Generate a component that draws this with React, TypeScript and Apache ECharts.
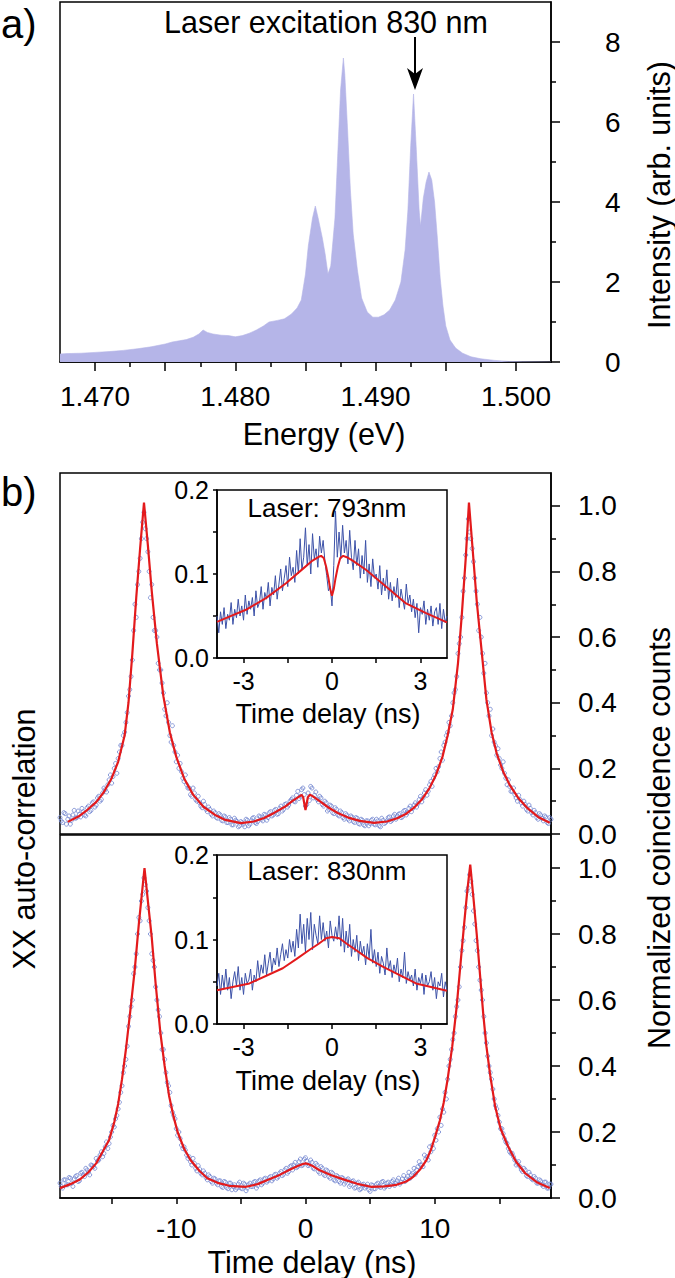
import React, { useEffect, useRef } from 'react';
import * as echarts from 'echarts';

const FONT = '"Liberation Sans", Arial, Helvetica, sans-serif';

// ---------- Panel a: PL spectrum ----------
const energyLabels = [1.47, 1.48, 1.49, 1.5];
const energyMajorTicks = [1.47, 1.475, 1.48, 1.485, 1.49, 1.495, 1.5];
const energyMinorTicks = [1.4725, 1.4775, 1.4825, 1.4875, 1.4925, 1.4975];
const intensityTicks = [0, 2, 4, 6, 8];
const intensityMinorTicks = [1, 3, 5, 7];
const spectrum: number[][] = [
  [1.4675, 0.2], [1.468, 0.21], [1.469, 0.22], [1.47, 0.24], [1.471, 0.26], [1.472, 0.29], [1.473, 0.33],
  [1.474, 0.38], [1.475, 0.45], [1.4755, 0.5], [1.476, 0.53], [1.4765, 0.56], [1.477, 0.62], [1.4774, 0.7],
  [1.4777, 0.8], [1.478, 0.74], [1.4784, 0.7], [1.479, 0.67], [1.4795, 0.66], [1.48, 0.63], [1.4805, 0.66],
  [1.481, 0.72], [1.4815, 0.8], [1.482, 0.9], [1.4824, 1.0], [1.483, 1.04], [1.4835, 1.08], [1.484, 1.2],
  [1.4844, 1.35], [1.4847, 1.55], [1.485, 2.2], [1.4852, 2.9], [1.4855, 3.6], [1.4857, 3.9], [1.4859, 3.6],
  [1.4862, 3.1], [1.4864, 2.7], [1.4866, 2.2], [1.4868, 2.4], [1.4871, 3.6], [1.4873, 5.2], [1.4875, 6.8],
  [1.4877, 7.6], [1.4878, 7.2], [1.488, 5.8], [1.4882, 4.3], [1.4884, 3.2], [1.4887, 2.3], [1.489, 1.6],
  [1.4894, 1.25], [1.4898, 1.12], [1.4902, 1.12], [1.4906, 1.18], [1.491, 1.3], [1.4914, 1.55], [1.4918, 2.0],
  [1.4921, 2.8], [1.4923, 3.8], [1.4925, 5.4], [1.4927, 6.7], [1.4929, 5.3], [1.4931, 3.8], [1.4932, 3.4],
  [1.4934, 4.1], [1.4936, 4.5], [1.4938, 4.75], [1.494, 4.55], [1.4942, 4.0], [1.4944, 3.1], [1.4946, 2.1],
  [1.4948, 1.4], [1.495, 0.9], [1.4953, 0.55], [1.4957, 0.35], [1.4962, 0.22], [1.4968, 0.13], [1.4975, 0.08],
  [1.4985, 0.04], [1.4995, 0.015], [1.5005, 0.005], [1.5025, 0],
];

// ---------- Panel b: auto-correlation ----------
const delayLabels = [-10, 0, 10];
const delayTicks = [-15, -10, -5, 0, 5, 10, 15];
const countLabels = [0, 0.2, 0.4, 0.6, 0.8, 1.0];
const countMinorTicks = [0.1, 0.3, 0.5, 0.7, 0.9];
const scatterStartA = -19;
const scatterStartB = -18.9;
const scatterStep = 0.2;
const scatter793a: number[] = [
  0.05, 0.035, 0.062, 0.045, 0.03, 0.058, 0.048, 0.07, 0.052, 0.068,
  0.055, 0.085, 0.072, 0.098, 0.088, 0.115, 0.105, 0.14, 0.128, 0.165,
  0.155, 0.2, 0.185, 0.25, 0.27, 0.31, 0.37, 0.44, 0.53, 0.7,
  0.76, 0.84, 0.95, 0.93, 0.86, 0.72, 0.66, 0.62, 0.52, 0.5,
  0.43, 0.36, 0.34, 0.28, 0.27, 0.22, 0.2, 0.19, 0.16, 0.15,
  0.14, 0.115, 0.125, 0.1, 0.095, 0.08, 0.09, 0.068, 0.075, 0.055,
  0.065, 0.048, 0.058, 0.04, 0.052, 0.035, 0.045, 0.028, 0.042, 0.022,
  0.038, 0.03, 0.045, 0.025, 0.04, 0.05, 0.032, 0.055, 0.045, 0.06,
  0.042, 0.065, 0.055, 0.072, 0.06, 0.078, 0.07, 0.09, 0.082, 0.1,
  0.11, 0.098, 0.13, 0.115, 0.14, 0.085, 0.125, 0.145, 0.11, 0.128,
  0.098, 0.11, 0.085, 0.095, 0.075, 0.085, 0.062, 0.075, 0.055, 0.065,
  0.045, 0.058, 0.04, 0.052, 0.035, 0.048, 0.03, 0.042, 0.025, 0.04,
  0.032, 0.045, 0.028, 0.04, 0.022, 0.042, 0.035, 0.05, 0.038, 0.055,
  0.045, 0.06, 0.05, 0.07, 0.058, 0.078, 0.068, 0.088, 0.082, 0.105,
  0.098, 0.125, 0.118, 0.15, 0.145, 0.18, 0.19, 0.23, 0.225, 0.28,
  0.31, 0.33, 0.4, 0.44, 0.55, 0.6, 0.74, 0.85, 0.96, 0.9,
  0.83, 0.74, 0.62, 0.6, 0.49, 0.43, 0.36, 0.3, 0.28, 0.24,
  0.23, 0.2, 0.185, 0.15, 0.145, 0.13, 0.12, 0.1, 0.105, 0.085,
  0.09, 0.07, 0.078, 0.058, 0.065, 0.045, 0.058, 0.04, 0.052, 0.032,
  0.045,
];
const scatter793b: number[] = [
  0.04, 0.065, 0.03, 0.055, 0.042, 0.072, 0.05, 0.06, 0.078, 0.058,
  0.08, 0.068, 0.095, 0.082, 0.11, 0.1, 0.125, 0.135, 0.15, 0.18,
  0.175, 0.215, 0.23, 0.27, 0.3, 0.34, 0.42, 0.48, 0.62, 0.66,
  0.8, 0.9, 0.98, 0.9, 0.8, 0.76, 0.62, 0.6, 0.5, 0.46,
  0.38, 0.4, 0.3, 0.33, 0.25, 0.24, 0.215, 0.17, 0.18, 0.14,
  0.12, 0.14, 0.105, 0.115, 0.085, 0.1, 0.075, 0.082, 0.06, 0.07,
  0.05, 0.062, 0.042, 0.055, 0.035, 0.05, 0.028, 0.048, 0.038, 0.025,
  0.035, 0.022, 0.042, 0.03, 0.048, 0.035, 0.038, 0.052, 0.04, 0.058,
  0.05, 0.068, 0.058, 0.075, 0.062, 0.085, 0.075, 0.092, 0.088, 0.105,
  0.1, 0.118, 0.108, 0.135, 0.12, 0.09, 0.102, 0.14, 0.118, 0.105,
  0.115, 0.09, 0.1, 0.07, 0.088, 0.065, 0.08, 0.058, 0.07, 0.05,
  0.062, 0.045, 0.055, 0.038, 0.05, 0.032, 0.045, 0.028, 0.04, 0.025,
  0.042, 0.03, 0.045, 0.025, 0.048, 0.032, 0.04, 0.052, 0.042, 0.06,
  0.055, 0.062, 0.052, 0.072, 0.065, 0.085, 0.078, 0.095, 0.092, 0.115,
  0.11, 0.135, 0.13, 0.16, 0.17, 0.2, 0.205, 0.25, 0.27, 0.3,
  0.34, 0.36, 0.43, 0.48, 0.58, 0.66, 0.78, 0.9, 0.92, 0.87,
  0.78, 0.7, 0.66, 0.55, 0.52, 0.4, 0.38, 0.32, 0.27, 0.26,
  0.21, 0.22, 0.17, 0.165, 0.13, 0.14, 0.11, 0.118, 0.095, 0.1,
  0.075, 0.088, 0.065, 0.072, 0.05, 0.062, 0.048, 0.055, 0.035, 0.05,
];
const scatter830a: number[] = [
  0.045, 0.03, 0.055, 0.04, 0.06, 0.035, 0.065, 0.05, 0.075, 0.07,
  0.09, 0.078, 0.1, 0.095, 0.12, 0.115, 0.14, 0.135, 0.17, 0.165,
  0.2, 0.215, 0.25, 0.29, 0.34, 0.4, 0.46, 0.55, 0.6, 0.7,
  0.8, 0.84, 0.92, 0.95, 0.88, 0.8, 0.72, 0.64, 0.57, 0.5,
  0.45, 0.38, 0.34, 0.28, 0.25, 0.21, 0.2, 0.16, 0.155, 0.13,
  0.125, 0.1, 0.105, 0.082, 0.088, 0.07, 0.075, 0.055, 0.065, 0.045,
  0.058, 0.04, 0.052, 0.032, 0.048, 0.028, 0.045, 0.035, 0.025, 0.042,
  0.03, 0.045, 0.022, 0.04, 0.035, 0.048, 0.03, 0.052, 0.04, 0.058,
  0.048, 0.062, 0.052, 0.07, 0.06, 0.075, 0.068, 0.085, 0.075, 0.095,
  0.085, 0.108, 0.095, 0.118, 0.1, 0.122, 0.098, 0.115, 0.09, 0.105,
  0.08, 0.095, 0.072, 0.085, 0.065, 0.078, 0.055, 0.068, 0.05, 0.062,
  0.042, 0.055, 0.035, 0.05, 0.03, 0.045, 0.025, 0.04, 0.03, 0.042,
  0.02, 0.038, 0.028, 0.045, 0.032, 0.05, 0.035, 0.048, 0.04, 0.055,
  0.045, 0.06, 0.048, 0.068, 0.058, 0.078, 0.07, 0.09, 0.085, 0.11,
  0.1, 0.13, 0.125, 0.155, 0.16, 0.19, 0.21, 0.245, 0.27, 0.32,
  0.36, 0.42, 0.48, 0.55, 0.6, 0.7, 0.78, 0.88, 0.94, 0.96,
  0.87, 0.78, 0.7, 0.63, 0.55, 0.47, 0.4, 0.36, 0.3, 0.27,
  0.23, 0.21, 0.18, 0.165, 0.14, 0.135, 0.115, 0.105, 0.095, 0.08,
  0.085, 0.065, 0.07, 0.055, 0.06, 0.045, 0.052, 0.035, 0.048, 0.03,
  0.042,
];
const scatter830b: number[] = [
  0.035, 0.055, 0.04, 0.062, 0.045, 0.058, 0.068, 0.052, 0.078, 0.065,
  0.085, 0.07, 0.098, 0.09, 0.112, 0.13, 0.125, 0.155, 0.15, 0.185,
  0.22, 0.24, 0.27, 0.32, 0.38, 0.42, 0.52, 0.58, 0.68, 0.74,
  0.85, 0.9, 0.97, 0.93, 0.84, 0.74, 0.7, 0.6, 0.55, 0.45,
  0.42, 0.35, 0.32, 0.26, 0.24, 0.19, 0.18, 0.15, 0.145, 0.12,
  0.11, 0.12, 0.09, 0.098, 0.075, 0.082, 0.062, 0.07, 0.05, 0.06,
  0.045, 0.052, 0.035, 0.05, 0.032, 0.045, 0.025, 0.04, 0.03, 0.048,
  0.028, 0.042, 0.03, 0.045, 0.035, 0.05, 0.038, 0.055, 0.045, 0.06,
  0.052, 0.065, 0.058, 0.072, 0.065, 0.08, 0.072, 0.09, 0.08, 0.098,
  0.1, 0.092, 0.11, 0.098, 0.118, 0.112, 0.1, 0.108, 0.088, 0.1,
  0.075, 0.09, 0.068, 0.082, 0.06, 0.075, 0.052, 0.065, 0.045, 0.06,
  0.048, 0.058, 0.04, 0.052, 0.032, 0.048, 0.028, 0.042, 0.035, 0.025,
  0.04, 0.028, 0.042, 0.035, 0.048, 0.03, 0.045, 0.035, 0.05, 0.038,
  0.052, 0.042, 0.058, 0.05, 0.065, 0.06, 0.075, 0.072, 0.095, 0.1,
  0.095, 0.118, 0.115, 0.14, 0.15, 0.175, 0.2, 0.22, 0.26, 0.3,
  0.4, 0.45, 0.5, 0.58, 0.64, 0.75, 0.82, 0.93, 0.98, 0.92,
  0.83, 0.75, 0.66, 0.6, 0.5, 0.43, 0.38, 0.33, 0.28, 0.25,
  0.21, 0.195, 0.17, 0.15, 0.135, 0.125, 0.1, 0.11, 0.085, 0.09,
  0.068, 0.078, 0.058, 0.065, 0.045, 0.055, 0.04, 0.048, 0.03, 0.042,
];
const fit793: number[][] = [
  [-18.4, 0.037], [-17.5, 0.055], [-16.9, 0.073], [-16.2, 0.097], [-15.6, 0.128], [-15.0, 0.17], [-14.5, 0.22],
  [-14.0, 0.3], [-13.7, 0.4], [-13.4, 0.55], [-13.1, 0.72], [-12.8, 0.87], [-12.5, 1.01], [-12.2, 0.88],
  [-11.9, 0.74], [-11.5, 0.58], [-11.0, 0.42], [-10.5, 0.31], [-10.0, 0.235], [-9.4, 0.17], [-8.7, 0.12],
  [-7.9, 0.083], [-7.0, 0.058], [-6.2, 0.043], [-5.0, 0.033], [-4.0, 0.038], [-3.2, 0.049], [-2.4, 0.065],
  [-1.6, 0.083], [-1.0, 0.101], [-0.5, 0.114], [-0.3, 0.119], [-0.18, 0.112], [-0.08, 0.09], [0, 0.073],
  [0.08, 0.09], [0.18, 0.112], [0.35, 0.12], [0.6, 0.114], [1.1, 0.1], [1.8, 0.08], [2.5, 0.064], [3.3, 0.05],
  [4.2, 0.04], [5.3, 0.034], [6.3, 0.038], [7.1, 0.048], [7.8, 0.062], [8.4, 0.08], [9.0, 0.105], [9.6, 0.14],
  [10.1, 0.18], [10.6, 0.235], [11.0, 0.3], [11.4, 0.38], [11.8, 0.52], [12.1, 0.67], [12.4, 0.84], [12.65, 1.01],
  [12.95, 0.86], [13.25, 0.71], [13.6, 0.57], [14.0, 0.41], [14.4, 0.31], [14.8, 0.245], [15.3, 0.19],
  [15.8, 0.15], [16.5, 0.108], [17.2, 0.078], [18.0, 0.052], [18.9, 0.034],
];
const fit830: number[][] = [
  [-19, 0.03], [-18.2, 0.042], [-17.5, 0.055], [-16.8, 0.078], [-16.2, 0.105], [-15.7, 0.14], [-15.2, 0.176],
  [-14.8, 0.23], [-14.5, 0.285], [-14.2, 0.36], [-13.9, 0.45], [-13.55, 0.57], [-13.22, 0.69], [-12.9, 0.83],
  [-12.46, 1.0], [-12.16, 0.885], [-11.9, 0.79], [-11.6, 0.65], [-11.23, 0.5], [-10.9, 0.4], [-10.56, 0.31],
  [-10.2, 0.245], [-9.9, 0.2], [-9.4, 0.15], [-8.9, 0.115], [-8.2, 0.082], [-7.6, 0.06], [-6.8, 0.046],
  [-5.9, 0.037], [-4.6, 0.034], [-3.7, 0.042], [-2.9, 0.055], [-2.0, 0.07], [-1.27, 0.085], [-0.6, 0.097],
  [-0.2, 0.103], [0, 0.105], [0.2, 0.103], [0.6, 0.096], [1.06, 0.085], [2.0, 0.069], [3.05, 0.055],
  [4.0, 0.043], [5.05, 0.034], [6.1, 0.035], [7.04, 0.04], [7.8, 0.05], [8.36, 0.065], [8.9, 0.088],
  [9.36, 0.115], [9.7, 0.145], [10.03, 0.186], [10.4, 0.235], [10.69, 0.288], [11.0, 0.36], [11.36, 0.46],
  [11.7, 0.58], [12.02, 0.72], [12.3, 0.84], [12.52, 0.93], [12.75, 1.01], [13.02, 0.9], [13.25, 0.8],
  [13.52, 0.67], [13.75, 0.56], [14.0, 0.46], [14.3, 0.37], [14.68, 0.277], [15.1, 0.21], [15.68, 0.156],
  [16.3, 0.11], [17.0, 0.075], [17.9, 0.048], [18.9, 0.03],
];

// ---------- Insets ----------
const insetLabels = [-3, 0, 3];
const insetTicks = [-3, -1.5, 0, 1.5, 3];
const insetYLabels = [0, 0.1, 0.2];
const insetYTicks = [0, 0.05, 0.1, 0.15, 0.2];
const insetStart = -3.9;
const insetStep = 0.06;
const inset793: number[] = [
  0.05, 0.03, 0.055, 0.04, 0.06, 0.035, 0.052, 0.045, 0.066, 0.04,
  0.058, 0.048, 0.07, 0.05, 0.062, 0.045, 0.075, 0.052, 0.068, 0.058,
  0.072, 0.05, 0.08, 0.06, 0.066, 0.085, 0.058, 0.078, 0.07, 0.09,
  0.062, 0.084, 0.075, 0.098, 0.07, 0.088, 0.106, 0.08, 0.095, 0.11,
  0.085, 0.12, 0.098, 0.108, 0.09, 0.128, 0.1, 0.142, 0.105, 0.12,
  0.155, 0.11, 0.135, 0.1, 0.148, 0.118, 0.13, 0.108, 0.145, 0.125,
  0.14, 0.115, 0.098, 0.08, 0.085, 0.062, 0.11, 0.175, 0.12, 0.15,
  0.118, 0.158, 0.125, 0.14, 0.112, 0.152, 0.12, 0.105, 0.14, 0.11,
  0.13, 0.095, 0.122, 0.1, 0.14, 0.09, 0.112, 0.085, 0.118, 0.095,
  0.1, 0.082, 0.11, 0.075, 0.095, 0.08, 0.105, 0.07, 0.09, 0.068,
  0.085, 0.072, 0.095, 0.06, 0.082, 0.07, 0.058, 0.088, 0.065, 0.075,
  0.055, 0.07, 0.048, 0.065, 0.03, 0.06, 0.052, 0.068, 0.04, 0.058,
  0.045, 0.062, 0.038, 0.055, 0.06, 0.04, 0.065, 0.035, 0.058, 0.042,
  0.05,
];
const inset830: number[] = [
  0.045, 0.06, 0.035, 0.058, 0.042, 0.065, 0.04, 0.055, 0.03, 0.05,
  0.062, 0.045, 0.068, 0.04, 0.055, 0.035, 0.06, 0.048, 0.052, 0.065,
  0.04, 0.058, 0.05, 0.075, 0.055, 0.07, 0.06, 0.082, 0.058, 0.072,
  0.085, 0.062, 0.078, 0.07, 0.09, 0.068, 0.082, 0.095, 0.075, 0.088,
  0.078, 0.1, 0.085, 0.098, 0.08, 0.112, 0.09, 0.13, 0.095, 0.118,
  0.085, 0.125, 0.1, 0.132, 0.088, 0.118, 0.105, 0.095, 0.128, 0.1,
  0.12, 0.098, 0.11, 0.09, 0.122, 0.105, 0.098, 0.115, 0.1, 0.128,
  0.092, 0.125, 0.085, 0.11, 0.09, 0.118, 0.08, 0.1, 0.085, 0.105,
  0.075, 0.098, 0.082, 0.092, 0.07, 0.095, 0.078, 0.112, 0.072, 0.088,
  0.068, 0.085, 0.06, 0.08, 0.072, 0.058, 0.09, 0.065, 0.075, 0.055,
  0.07, 0.06, 0.078, 0.05, 0.065, 0.055, 0.085, 0.048, 0.062, 0.052,
  0.058, 0.045, 0.065, 0.04, 0.055, 0.048, 0.06, 0.035, 0.058, 0.045,
  0.05, 0.062, 0.04, 0.055, 0.03, 0.05, 0.045, 0.06, 0.032, 0.05,
  0.04,
];
const insetFit793: number[][] = [
  [-3.9, 0.043], [-3.5, 0.049], [-2.92, 0.0574], [-2.24, 0.0713], [-1.56, 0.089], [-1.0, 0.1058], [-0.66, 0.116],
  [-0.45, 0.1205], [-0.37, 0.1216], [-0.28, 0.119], [-0.2, 0.109], [-0.12, 0.095], [-0.06, 0.082], [0, 0.074],
  [0.06, 0.082], [0.12, 0.095], [0.2, 0.109], [0.28, 0.119], [0.38, 0.1216], [0.5, 0.12], [0.7, 0.116],
  [1.15, 0.105], [1.83, 0.085], [2.51, 0.065], [3.19, 0.0535], [3.9, 0.0424],
];
const insetFit830: number[][] = [
  [-3.9, 0.04], [-2.8, 0.048], [-1.67, 0.066], [-1.2, 0.077], [-0.77, 0.0876], [-0.45, 0.095], [-0.2, 0.1014],
  [0, 0.103], [0.25, 0.1014], [0.5, 0.095], [0.81, 0.0876], [1.2, 0.078], [1.72, 0.068], [2.85, 0.048],
  [3.9, 0.0394],
];

const toPairs = (start: number, step: number, ys: number[]) =>
  ys.map((y, i) => [Number((start + step * i).toFixed(3)), y]);

const BLACK = '#000';
const RED = '#e31a1c';
const tickStyle = { color: BLACK, width: 1.5 };
const lbl = (size: number, margin: number, values: number[], fmt: (v: number) => string, align: string) => ({
  show: true, customValues: values, formatter: fmt, margin, fontSize: size, color: BLACK, fontFamily: FONT, align,
});

function majorAxis(grid: number, min: number, max: number, pos: string, ticks: number[], tickLen: number, label: any) {
  return {
    type: 'value', gridIndex: grid, min, max, position: pos,
    axisLine: { show: true, onZero: false, lineStyle: tickStyle },
    axisTick: { show: true, inside: false, length: tickLen, customValues: ticks, lineStyle: tickStyle },
    axisLabel: label,
    splitLine: { show: false },
  };
}
function ghostAxis(grid: number, min: number, max: number, pos: string, ticks: number[], tickLen: number) {
  return {
    type: 'value', gridIndex: grid, min, max, position: pos,
    axisLine: { show: false, onZero: false },
    axisTick: { show: true, inside: false, length: tickLen, customValues: ticks, lineStyle: tickStyle },
    axisLabel: { show: false },
    splitLine: { show: false },
  };
}
function hiddenAxis(grid: number, min: number, max: number, pos: string) {
  return {
    type: 'value', gridIndex: grid, min, max, position: pos,
    axisLine: { show: false, onZero: false }, axisTick: { show: false }, axisLabel: { show: false },
    splitLine: { show: false },
  };
}

const gridBox = { show: true, borderColor: BLACK, borderWidth: 1.5, backgroundColor: 'transparent' };

const f1 = (v: number) => v.toFixed(1);
const f3 = (v: number) => v.toFixed(3);
const fi = (v: number) => String(Math.round(v));

function text(x: number, y: number, s: string, size: number, rotation = 0, align = 'center') {
  return {
    type: 'text', x, y, rotation, silent: true,
    style: {
      text: s, fill: BLACK, fontSize: size, fontFamily: FONT,
      align, verticalAlign: 'middle', textAlign: align, textVerticalAlign: 'middle',
    },
  };
}

const scatterStyle = {
  symbol: 'circle', symbolSize: 4,
  itemStyle: { color: 'rgba(0,0,0,0)', borderColor: '#7083cf', borderWidth: 0.9, opacity: 0.9 },
};

const option: any = {
  animation: false,
  backgroundColor: '#fff',
  grid: [
    { left: 60, top: 2, width: 491, height: 360, ...gridBox },
    { left: 60, top: 473, width: 491, height: 361, ...gridBox },
    { left: 60, top: 835, width: 491, height: 363, ...gridBox },
    { left: 217, top: 490, width: 230, height: 168, ...gridBox },
    { left: 217, top: 855, width: 230, height: 169, ...gridBox },
  ],
  xAxis: [
    majorAxis(0, 1.4675, 1.5025, 'bottom', energyMajorTicks, 9, lbl(28, 20, energyLabels, f3, 'center')),
    ghostAxis(0, 1.4675, 1.5025, 'bottom', energyMinorTicks, 5),
    hiddenAxis(1, -19, 19, 'bottom'),
    majorAxis(2, -19, 19, 'bottom', delayTicks, 6, lbl(28, 16, delayLabels, fi, 'center')),
    majorAxis(3, -3.9, 3.9, 'bottom', insetTicks, 5, lbl(25, 10, insetLabels, fi, 'center')),
    majorAxis(4, -3.9, 3.9, 'bottom', insetTicks, 5, lbl(25, 10, insetLabels, fi, 'center')),
  ],
  yAxis: [
    majorAxis(0, 0, 9, 'right', intensityTicks, 9, lbl(28, 54, intensityTicks, fi, 'left')),
    ghostAxis(0, 0, 9, 'right', intensityMinorTicks, 5),
    majorAxis(1, 0, 1.1, 'right', countLabels, 9, lbl(28, 27, countLabels, f1, 'left')),
    ghostAxis(1, 0, 1.1, 'right', countMinorTicks, 5),
    majorAxis(2, 0, 1.1, 'right', countLabels, 9, lbl(28, 27, countLabels, f1, 'left')),
    ghostAxis(2, 0, 1.1, 'right', countMinorTicks, 5),
    majorAxis(3, 0, 0.2, 'left', insetYTicks, 4, lbl(25, 8, insetYLabels, f1, 'right')),
    majorAxis(4, 0, 0.2, 'left', insetYTicks, 4, lbl(25, 8, insetYLabels, f1, 'right')),
  ],
  series: [
    {
      type: 'line', xAxisIndex: 0, yAxisIndex: 0, data: spectrum, symbol: 'none',
      lineStyle: { width: 0.6, color: '#b5b5e8' }, areaStyle: { color: '#b5b5e8', opacity: 1 },
    },
    {
      type: 'scatter', xAxisIndex: 2, yAxisIndex: 2, ...scatterStyle,
      data: [...toPairs(scatterStartA, scatterStep, scatter793a), ...toPairs(scatterStartB, scatterStep, scatter793b)],
    },
    {
      type: 'line', xAxisIndex: 2, yAxisIndex: 2, data: fit793, symbol: 'none',
      lineStyle: { width: 2.2, color: RED },
    },
    {
      type: 'scatter', xAxisIndex: 3, yAxisIndex: 4, ...scatterStyle,
      data: [...toPairs(scatterStartA, scatterStep, scatter830a), ...toPairs(scatterStartB, scatterStep, scatter830b)],
    },
    {
      type: 'line', xAxisIndex: 3, yAxisIndex: 4, data: fit830, symbol: 'none',
      lineStyle: { width: 2.2, color: RED },
    },
    {
      type: 'line', xAxisIndex: 4, yAxisIndex: 6, data: toPairs(insetStart, insetStep, inset793), symbol: 'none',
      lineStyle: { width: 1, color: '#3d52a8' },
    },
    {
      type: 'line', xAxisIndex: 4, yAxisIndex: 6, data: insetFit793, symbol: 'none',
      lineStyle: { width: 2, color: RED },
    },
    {
      type: 'line', xAxisIndex: 5, yAxisIndex: 7, data: toPairs(insetStart, insetStep, inset830), symbol: 'none',
      lineStyle: { width: 1, color: '#3d52a8' },
    },
    {
      type: 'line', xAxisIndex: 5, yAxisIndex: 7, data: insetFit830, symbol: 'none',
      lineStyle: { width: 2, color: RED },
    },
  ],
  graphic: [
    text(1, 24, 'a)', 40, 0, 'left'),
    text(1, 492, 'b)', 40, 0, 'left'),
    text(326, 22, 'Laser excitation 830 nm', 30.5),
    { type: 'line', silent: true, shape: { x1: 415, y1: 37, x2: 415, y2: 76 }, style: { stroke: BLACK, lineWidth: 2 } },
    {
      type: 'polygon', silent: true,
      shape: { points: [[407, 68], [415, 90], [423, 68], [415, 74]] },
      style: { fill: BLACK },
    },
    text(324, 434, 'Energy (eV)', 30.5),
    text(659, 195, 'Intensity (arb. units)', 30.5, Math.PI / 2),
    text(24, 839, 'XX auto-correlation', 30.5, Math.PI / 2),
    text(659, 838, 'Normalized coincidence counts', 30.5, Math.PI / 2),
    text(312, 1262, 'Time delay (ns)', 30.5),
    text(327, 508, 'Laser: 793nm', 26),
    text(328, 714, 'Time delay (ns)', 27),
    text(327, 871, 'Laser: 830nm', 26),
    text(328, 1081, 'Time delay (ns)', 27),
  ],
};

export default function App() {
  const ref = useRef<HTMLDivElement>(null);
  useEffect(() => {
    const chart = echarts.init(ref.current as HTMLDivElement, null, { renderer: 'svg', width: 675, height: 1278 });
    chart.setOption(option);
    return () => chart.dispose();
  }, []);
  return (
    <div
      ref={ref}
      style={{ position: 'absolute', left: 0, top: 0, width: 675, height: 1278, background: '#fff' }}
    />
  );
}
